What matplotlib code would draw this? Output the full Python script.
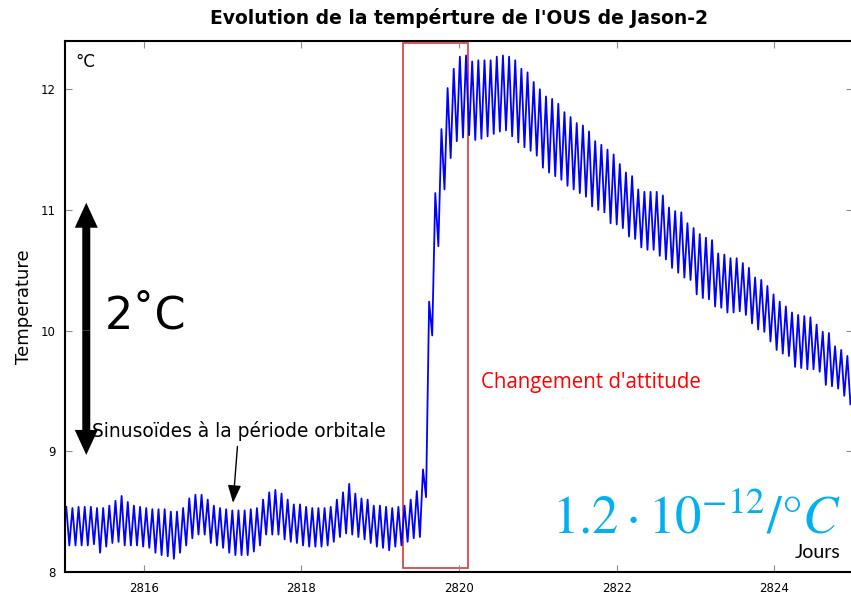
import numpy as np
import matplotlib
matplotlib.use('Agg')
import matplotlib.pyplot as plt
from matplotlib.patches import Rectangle

# maxima / minima de chaque orbite (degC)
peaks = [8.54, 8.53, 8.54, 8.54, 8.54, 8.53, 8.53, 8.55, 8.59, 8.63,
         8.58, 8.55, 8.54, 8.53, 8.52, 8.52, 8.52, 8.50, 8.50, 8.53,
         8.61, 8.64, 8.64, 8.60, 8.55, 8.53, 8.52, 8.51, 8.51, 8.51,
         8.52, 8.53, 8.60, 8.66, 8.68, 8.65, 8.60, 8.56, 8.56, 8.54,
         8.53, 8.53, 8.53, 8.54, 8.60, 8.66, 8.73, 8.65, 8.61, 8.60,
         8.55, 8.55, 8.54, 8.53, 8.54, 8.55, 8.60, 8.67, 8.85, 10.24,
         11.14, 11.67, 12.01, 12.17, 12.27, 12.28, 12.23, 12.24, 12.24, 12.24,
         12.27, 12.28, 12.27, 12.24, 12.17, 12.14, 12.06, 12.00, 11.94, 11.92,
         11.88, 11.81, 11.77, 11.72, 11.70, 11.65, 11.57, 11.54, 11.50, 11.46,
         11.38, 11.31, 11.28, 11.17, 11.15, 11.15, 11.15, 11.12, 11.02, 10.99,
         10.98, 10.89, 10.85, 10.80, 10.77, 10.75, 10.64, 10.63, 10.60, 10.60,
         10.56, 10.52, 10.44, 10.42, 10.37, 10.30, 10.24, 10.20, 10.15, 10.13,
         10.12, 10.11, 10.05, 9.99, 9.98, 9.87, 9.84, 9.79]
troughs = [8.22, 8.22, 8.22, 8.22, 8.23, 8.16, 8.21, 8.24, 8.25, 8.22,
           8.22, 8.22, 8.21, 8.20, 8.16, 8.14, 8.13, 8.11, 8.16, 8.22,
           8.28, 8.31, 8.31, 8.24, 8.22, 8.20, 8.16, 8.14, 8.14, 8.14,
           8.17, 8.22, 8.31, 8.31, 8.31, 8.27, 8.25, 8.24, 8.22, 8.21,
           8.21, 8.21, 8.22, 8.25, 8.29, 8.32, 8.31, 8.29, 8.27, 8.24,
           8.21, 8.20, 8.18, 8.21, 8.22, 8.25, 8.28, 8.29, 8.62, 9.96,
           10.70, 11.17, 11.43, 11.57, 11.60, 11.62, 11.58, 11.59, 11.61, 11.63,
           11.65, 11.66, 11.61, 11.56, 11.52, 11.49, 11.45, 11.35, 11.31, 11.28,
           11.25, 11.20, 11.17, 11.14, 11.11, 11.03, 11.00, 10.98, 10.89, 10.88,
           10.85, 10.78, 10.76, 10.69, 10.67, 10.67, 10.62, 10.59, 10.52, 10.48,
           10.44, 10.42, 10.30, 10.27, 10.26, 10.20, 10.19, 10.15, 10.15, 10.16,
           10.13, 10.06, 10.01, 9.99, 9.91, 9.84, 9.81, 9.79, 9.70, 9.69,
           9.68, 9.68, 9.66, 9.55, 9.54, 9.52, 9.46, 9.39]

t_first_peak = 2815.016   # jour du premier maximum
orbit_period = 0.07805    # jours (~112 min)

xticks = [2816, 2818, 2820, 2822, 2824]
yticks = [8, 9, 10, 11, 12]

n = len(peaks)
t_peaks = t_first_peak + orbit_period * np.arange(n)
t = np.empty(2 * n)
t[0::2] = t_peaks
t[1::2] = t_peaks + orbit_period / 2
temp = np.empty(2 * n)
temp[0::2] = peaks
temp[1::2] = troughs

fig = plt.figure(figsize=(8.51, 5.95), dpi=100)
ax = fig.add_axes([65 / 851, 23 / 595, 788 / 851, 531 / 595])

ax.plot(t, temp, color='#0000ff', lw=1.3)

ax.set_xlim(2815, 2825)
ax.set_ylim(8, 12.4)
ax.set_xticks(xticks)
ax.set_yticks(yticks)
ax.tick_params(direction='in', top=True, right=True, length=5, width=0.8,
               color='0.55', labelsize=8.5, pad=7)
for s in ax.spines.values():
    s.set_linewidth(1.5)
    s.set_color('black')

ax.set_title("Evolution de la tempérture de l'OUS de Jason-2",
             fontsize=13.5, fontweight='bold', pad=12)
ax.set_ylabel('Temperature', fontsize=13, labelpad=5)

ax.text(2815.13, 12.23, '°C', fontsize=12, va='center')

# changement d'attitude
ax.add_patch(Rectangle((2819.29, 8.03), 0.82, 4.35, fill=False,
                       edgecolor='#d84a4a', lw=1.3))
ax.text(2820.28, 9.57, "Changement d'attitude", color='red',
        fontsize=14.8, family='Open Sans', va='center')

# amplitude 2 degC : deux fleches depuis le milieu
arrow_style = 'simple,head_length=0.5,head_width=0.46,tail_width=0.16'
for y_tip in (11.06, 8.97):
    ax.annotate('', xy=(2815.27, y_tip), xytext=(2815.27, 10.0),
                arrowprops=dict(arrowstyle=arrow_style, mutation_scale=36,
                                lw=0, color='black', shrinkA=0, shrinkB=0))
ax.text(2815.5, 10.12, '2˚C', fontsize=32, va='center')

ax.annotate('Sinusoïdes à la période orbitale', xy=(2817.13, 8.55),
            xytext=(2815.34, 9.17), fontsize=13.4, va='center',
            arrowprops=dict(arrowstyle='-|>,head_length=0.8,head_width=0.3',
                            color='black', lw=1))

ax.text(2824.84, 8.315, r'$1.2\cdot10^{-12}/°C$', color='#00b0f0',
        fontsize=38, ha='right', va='baseline', math_fontfamily='stix')
ax.text(2824.84, 8.12, 'Jours', fontsize=14, family='Lato',
        ha='right', va='baseline')

fig.savefig('out.png', dpi=100)
